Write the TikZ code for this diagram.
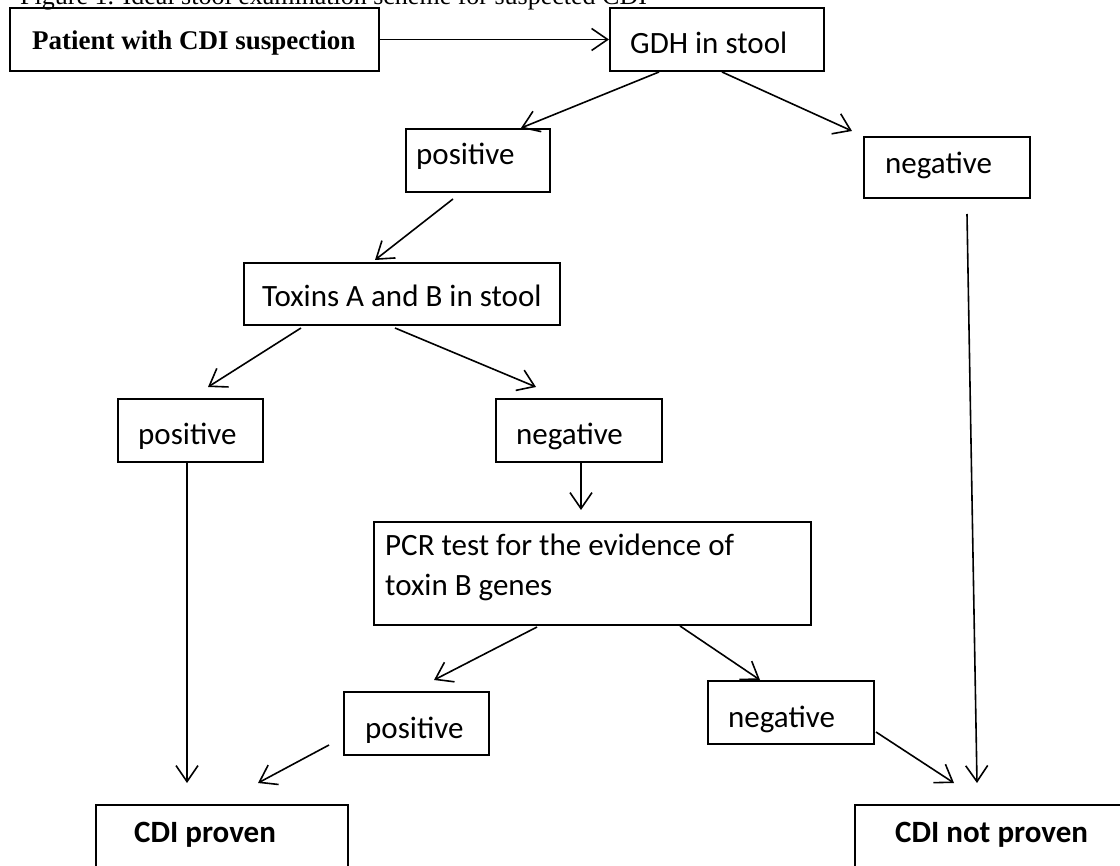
\documentclass[tikz,border=0pt]{standalone}
\usepackage{fontspec}
\setmainfont{Liberation Serif}
\newfontfamily\calibrifont{Carlito}
\usetikzlibrary{arrows.meta,calc}
\tikzset{
  box/.style={draw, line width=2pt, rectangle, inner sep=0pt, anchor=north west},
  lbl/.style={inner sep=0pt, anchor=base west, font=\calibrifont\fontsize{31}{40}\selectfont},
  blbl/.style={inner sep=0pt, anchor=base west, font=\calibrifont\bfseries\fontsize{31}{40}\selectfont},
  arr/.style={line width=1.6pt, -{Straight Barb[length=16pt,width=22pt,line width=1.6pt]}},
  conn/.style={line width=1.6pt}
}
\begin{document}
\begin{tikzpicture}[x={(1pt,0pt)},y={(0pt,-1pt)}]
\useasboundingbox (0,0) rectangle (1120,866);
\clip (0,0) rectangle (1120,866);
\node[inner sep=0pt, anchor=base west, font=\fontsize{26}{30}\selectfont] (title) at (20,5) {Figure 1. Ideal stool examination scheme for suspected CDI};
% boxes
\node[box, minimum width=369pt, minimum height=63pt] (patient) at (9,7) {};
\node[box, minimum width=214pt, minimum height=63pt] (gdh) at (609,7) {};
\node[box, minimum width=144pt, minimum height=63pt] (pos1) at (405,128) {};
\node[box, minimum width=166pt, minimum height=61pt] (neg1) at (863,136) {};
\node[box, minimum width=316pt, minimum height=62pt] (tox) at (243,262) {};
\node[box, minimum width=145pt, minimum height=63pt] (pos2) at (117,398) {};
\node[box, minimum width=166pt, minimum height=63pt] (neg2) at (495,398) {};
\node[box, minimum width=437pt, minimum height=103pt] (pcr) at (373,521) {};
\node[box, minimum width=145pt, minimum height=63pt] (pos3) at (343,691) {};
\node[box, minimum width=166pt, minimum height=63pt] (neg3) at (707,680) {};
\node[box, minimum width=252pt, minimum height=100pt] (proven) at (95,804) {};
\node[box, minimum width=300pt, minimum height=100pt] (notproven) at (854,804) {};
% texts
\node[inner sep=0pt, anchor=base west, font=\bfseries\fontsize{27}{30}\selectfont] (tpatient) at (32,50) {Patient with CDI suspection};
\node[lbl] (tgdh) at (630,54) {GDH in stool};
\node[lbl] (tpos1) at (416,165) {positive};
\node[lbl] (tneg1) at (885,174) {negative};
\node[lbl] (ttox) at (262,307) {Toxins A and B in stool};
\node[lbl] (tpos2) at (138,445) {positive};
\node[lbl] (tneg2) at (516,445) {negative};
\node[lbl] (tpcr1) at (385,555) {PCR test for the evidence of};
\node[lbl] (tpcr2) at (385,595) {toxin B genes};
\node[lbl] (tpos3) at (365,738) {positive};
\node[lbl] (tneg3) at (728,727) {negative};
\node[blbl] (tproven) at (134,842) {CDI proven};
\node[blbl] (tnotproven) at (895,842) {CDI not proven};
% connectors
\draw[arr] (patient.east) -- (gdh.west);
\draw[arr] ($(gdh.south west)+(50,0)$) -- ($(pos1.north west)+(116,0)$);
\draw[arr] ($(gdh.south west)+(113,0)$) -- ($(neg1.north west)+(-11,-5)$);
\draw[arr] ($(pos1.south west)+(48,6)$) -- ($(tox.north west)+(132,-2)$);
\draw[arr] ($(neg1.south west)+(104,15)$) -- ($(notproven.north west)+(123,-21)$);
\draw[arr] ($(tox.south west)+(58,2)$) -- ($(pos2.north west)+(91,-11)$);
\draw[arr] ($(tox.south west)+(152,2)$) -- ($(neg2.north west)+(41,-11)$);
\draw[arr] ($(pos2.south west)+(70,0)$) -- ($(proven.north west)+(92,-21)$);
\draw[arr] ($(neg2.south west)+(86,0)$) -- ($(pcr.north west)+(208,-11)$);
\draw[arr] ($(pcr.south west)+(164,1)$) -- ($(pos3.north west)+(91,-11)$);
\draw[arr] ($(pcr.south west)+(307,0)$) -- ($(neg3.north west)+(53,0)$);
\draw[arr] ($(pos3.south west)+(-14,-11)$) -- ($(proven.north west)+(163,-21)$);
\draw[arr] ($(neg3.south east)+(1,-13)$) -- ($(notproven.north west)+(100,-21)$);
\end{tikzpicture}
\end{document}
